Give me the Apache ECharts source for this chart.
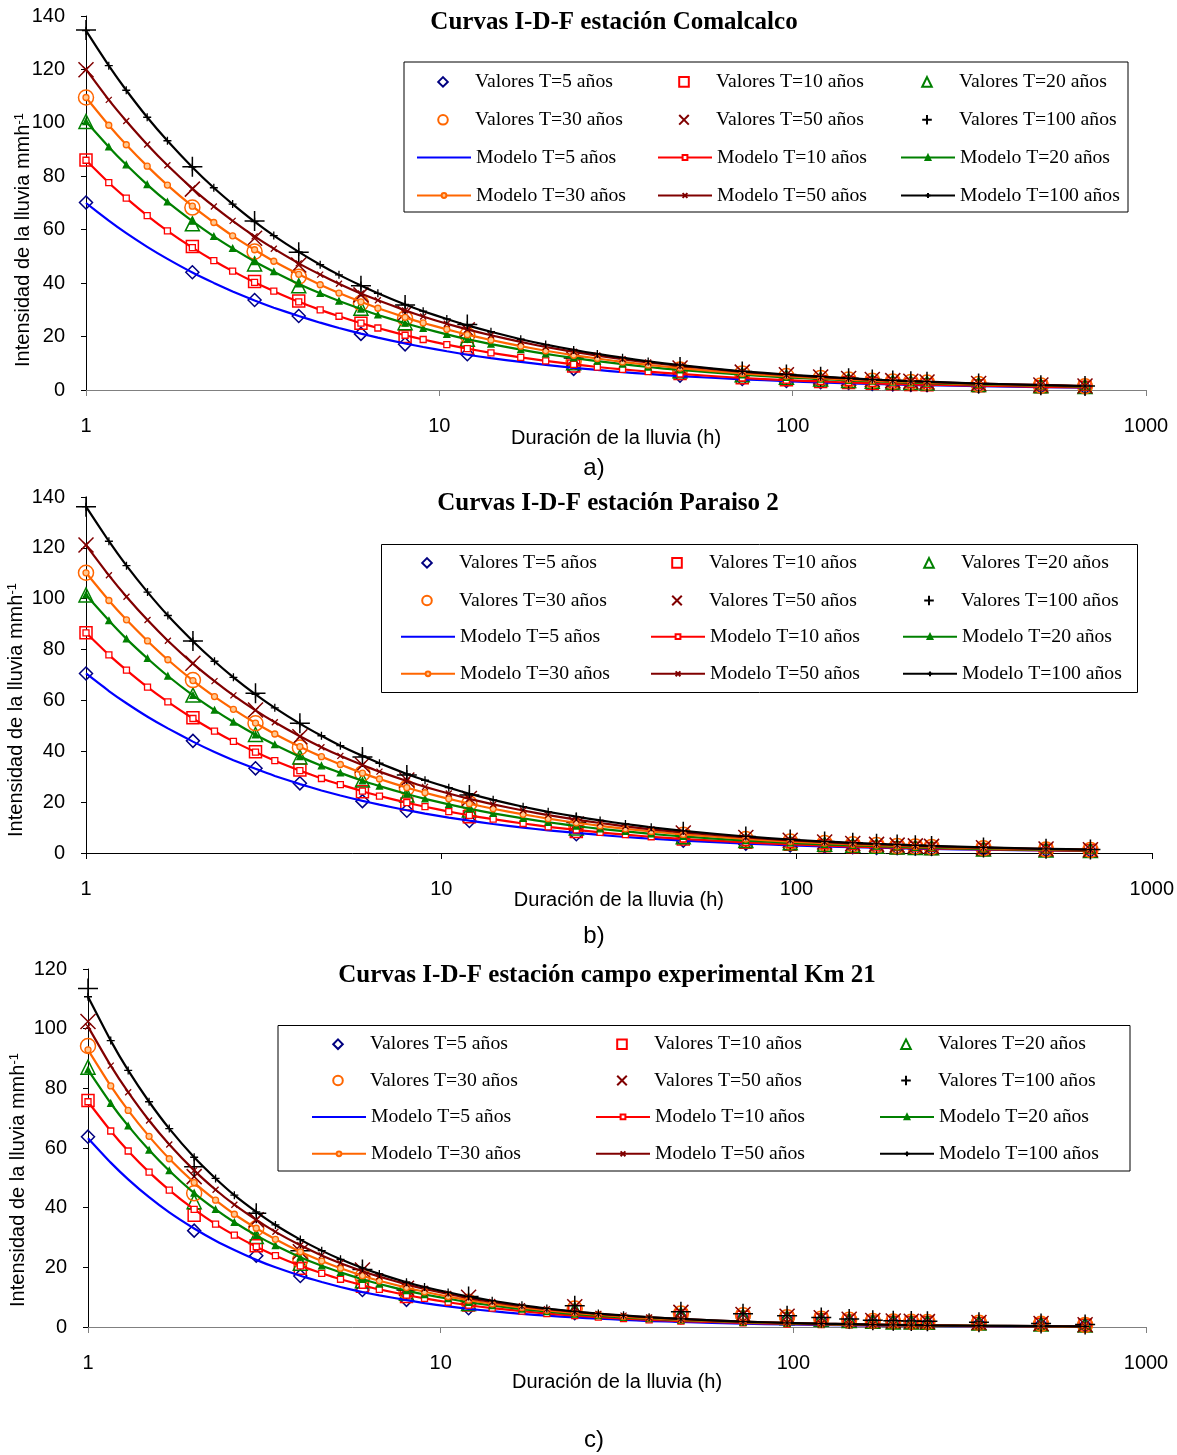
<!DOCTYPE html>
<html><head><meta charset="utf-8">
<script src="https://cdn.jsdelivr.net/npm/echarts@6/dist/echarts.min.js"></script>
<style>html,body{margin:0;padding:0;background:#fff}#c{width:1177px;height:1455px}</style>
</head><body><div id="c"></div>
<script>
// ---------- Durations (h) ----------
const durData = [1,2,3,4,6,8,12,24,48,72,96,120,144,168,192,216,240,336,504,672];
const durModel = [1,1.16,1.3,1.49,1.7,2,2.3,2.6,3,3.4,4,4.6,5.2,6,6.7,8,9,10.5,12,14,17,20,24,28,33,39,48,72,96,120,144,168,192,216,240,336,504,672];
const xTicks = [1,10,100,1000];
const returnPeriods = ['T=5 años','T=10 años','T=20 años','T=30 años','T=50 años','T=100 años'];
const titles = ['Curvas I-D-F estación Comalcalco','Curvas I-D-F estación Paraiso 2','Curvas I-D-F estación campo experimental Km 21'];
const panelLabels = ['a)','b)','c)'];
const yMax = [140,140,120];

// ---------- a) Comalcalco ----------
const aValT5   = [70.2,44.1,33.7,27.7,21.0,17.1,13.4,7.9,5.4,4.1,3.4,2.9,2.6,2.3,2.1,1.9,1.8,1.4,1.1,0.9];
const aValT10  = [86.1,53.7,40.6,33.3,25.0,20.0,15.6,9.0,6.2,4.6,3.8,3.2,2.8,2.5,2.3,2.1,2.0,1.6,1.2,1.0];
const aValT20  = [100.5,62.2,47.2,39.0,30.6,25.2,19.0,10.2,7.2,5.7,4.8,4.1,3.6,3.3,3.0,2.8,2.6,2.1,1.6,1.3];
const aValT30  = [109.5,68.3,51.8,42.4,32.5,26.8,20.6,10.8,7.7,6.2,5.2,4.5,3.9,3.5,3.2,3.0,2.8,2.2,1.7,1.4];
const aValT50  = [119.9,75.2,56.8,46.8,35.6,28.7,22.5,11.6,8.2,6.7,5.7,4.9,4.3,3.9,3.5,3.3,3.0,2.4,1.9,1.5];
const aValT100 = [134.8,83.6,63.3,51.6,39.0,31.8,24.5,12.0,8.6,6.9,5.8,5.0,4.4,3.9,3.6,3.3,3.1,2.4,1.8,1.5];
const aModT5   = [70.0,63.4,58.7,53.6,49.1,44.0,40.1,36.9,33.5,30.8,27.7,25.2,23.2,21.1,19.6,17.4,16.1,14.5,13.2,11.9,10.5,9.4,8.3,7.5,6.7,6.0,5.2,4.0,3.3,2.8,2.5,2.3,2.1,1.9,1.8,1.4,1.1,0.9];
const aModT10  = [86.0,77.6,71.8,65.3,59.6,53.3,48.4,44.5,40.3,37.0,33.0,30.0,27.6,25.0,23.2,20.5,18.9,17.0,15.5,13.9,12.2,10.9,9.6,8.6,7.7,6.9,6.0,4.5,3.7,3.2,2.8,2.5,2.3,2.1,2.0,1.6,1.2,1.0];
const aModT20  = [100.5,91.0,84.3,76.9,70.4,63.2,57.5,53.0,48.1,44.3,39.7,36.2,33.3,30.3,28.1,25.0,23.1,20.8,19.0,17.2,15.1,13.5,12.0,10.8,9.7,8.6,7.5,5.7,4.7,4.1,3.6,3.3,3.0,2.7,2.6,2.0,1.6,1.3];
const aModT30  = [109.5,99.1,91.8,83.8,76.7,68.8,62.7,57.7,52.5,48.2,43.3,39.4,36.3,33.0,30.6,27.2,25.1,22.7,20.7,18.7,16.4,14.7,13.0,11.8,10.5,9.4,8.2,6.2,5.2,4.4,3.9,3.5,3.2,3.0,2.8,2.2,1.7,1.4];
const aModT50  = [120.0,108.6,100.7,91.9,84.1,75.4,68.7,63.3,57.5,52.9,47.4,43.2,39.8,36.1,33.6,29.8,27.5,24.8,22.7,20.5,18.0,16.1,14.3,12.9,11.5,10.3,9.0,6.8,5.6,4.8,4.3,3.9,3.5,3.3,3.0,2.4,1.9,1.5];
const aModT100 = [134.5,121.4,112.2,102.1,93.3,83.4,75.7,69.6,63.0,57.8,51.7,46.9,43.1,39.1,36.2,32.0,29.5,26.6,24.2,21.8,19.0,17.0,15.0,13.5,12.1,10.7,9.3,7.0,5.8,5.0,4.4,3.9,3.6,3.3,3.1,2.4,1.8,1.5];

// ---------- b) Paraiso 2 ----------
const bValT5   = [70.6,44.1,33.3,27.4,20.4,16.6,12.6,7.4,4.8,3.7,3.0,2.6,2.3,2.0,1.9,1.7,1.6,1.3,1.0,0.8];
const bValT10  = [86.6,53.2,39.8,32.6,24.1,19.3,14.3,8.5,5.5,4.2,3.4,2.9,2.5,2.3,2.1,1.9,1.8,1.4,1.05,0.85];
const bValT20  = [101.5,62.1,46.6,37.8,28.7,22.8,16.9,9.8,6.4,4.9,4.0,3.4,3.0,2.7,2.4,2.2,2.1,1.6,1.2,1.0];
const bValT30  = [110.2,68.0,51.0,41.5,31.3,25.6,19.5,10.6,7.2,5.5,4.5,3.9,3.4,3.1,2.8,2.6,2.4,1.9,1.4,1.2];
const bValT50  = [121.1,74.6,56.2,45.7,34.6,28.7,21.4,11.4,7.9,6.1,5.0,4.3,3.7,3.4,3.1,2.8,2.6,2.1,1.6,1.3];
const bValT100 = [136.2,83.4,62.8,51.0,37.8,30.7,22.8,12.0,8.4,6.5,5.3,4.5,4.0,3.6,3.3,3.0,2.8,2.2,1.65,1.33];
const bModT5   = [70.6,63.7,58.9,53.6,49.0,43.8,39.7,36.5,33.1,30.3,27.1,24.6,22.6,20.5,19.0,16.8,15.5,13.9,12.7,11.4,10.0,8.9,7.9,7.1,6.3,5.6,4.9,3.7,3.0,2.6,2.3,2.1,1.9,1.7,1.6,1.3,1.0,0.8];
const bModT10  = [86.6,77.9,71.9,65.2,59.4,52.9,47.9,43.9,39.7,36.3,32.4,29.3,26.9,24.3,22.4,19.8,18.2,16.3,14.8,13.3,11.6,10.3,9.1,8.1,7.2,6.4,5.5,4.2,3.4,2.9,2.5,2.3,2.1,1.9,1.8,1.4,1.05,0.85];
const bModT20  = [101.5,91.4,84.2,76.5,69.6,62.0,56.2,51.5,46.5,42.6,37.9,34.3,31.5,28.4,26.3,23.2,21.3,19.1,17.4,15.6,13.6,12.1,10.6,9.5,8.5,7.5,6.5,4.9,4.0,3.4,3.0,2.7,2.4,2.2,2.1,1.6,1.2,1.0];
const bModT30  = [110.2,99.3,91.7,83.4,76.0,67.8,61.5,56.5,51.1,46.8,41.8,37.9,34.8,31.4,29.1,25.7,23.7,21.3,19.4,17.4,15.2,13.5,11.9,10.7,9.5,8.5,7.3,5.5,4.5,3.9,3.4,3.1,2.8,2.6,2.4,1.9,1.4,1.2];
const bModT50  = [121.1,109.2,100.8,91.6,83.5,74.5,67.6,62.0,56.1,51.4,45.9,41.6,38.2,34.6,32.0,28.3,26.0,23.4,21.3,19.1,16.7,14.9,13.1,11.8,10.5,9.3,8.1,6.1,5.0,4.3,3.7,3.4,3.1,2.8,2.6,2.1,1.6,1.3];
const bModT100 = [136.2,122.6,113.0,102.6,93.4,83.3,75.4,69.1,62.4,57.1,50.9,46.1,42.2,38.2,35.3,31.1,28.6,25.7,23.3,20.9,18.2,16.2,14.3,12.8,11.4,10.1,8.7,6.5,5.3,4.5,4.0,3.6,3.3,3.0,2.8,2.2,1.65,1.33];

// ---------- c) Campo experimental Km 21 ----------
const cValT5   = [63.8,32.3,23.9,17.1,12.4,9.1,6.3,4.6,3.3,2.9,2.5,2.1,1.75,1.5,1.4,1.3,1.2,1.04,0.78,0.52];
const cValT10  = [75.9,37.5,27.2,19.7,13.7,10.2,7.4,5.3,3.8,3.3,2.85,2.4,2.0,1.7,1.6,1.5,1.4,1.2,0.9,0.6];
const cValT20  = [87.1,42.0,30.3,21.4,15.5,11.3,7.9,5.8,4.2,3.6,3.1,2.6,2.2,1.9,1.7,1.64,1.56,1.3,0.98,0.66];
const cValT30  = [94.2,44.8,33.1,22.5,16.9,11.9,8.5,6.2,4.5,3.9,3.3,2.8,2.4,2.0,1.85,1.76,1.67,1.4,1.06,0.7];
const cValT50  = [102.4,50.4,35.9,25.2,19.1,13.0,10.0,6.8,4.9,4.2,3.6,3.1,2.6,2.2,2.0,1.9,1.8,1.5,1.15,0.77];
const cValT100 = [113.5,53.7,38.1,25.6,19.3,12.4,10.2,7.1,5.1,4.4,3.8,3.2,2.7,2.3,2.1,2.0,1.9,1.6,1.2,0.8];
const cModT5   = [63.3,55.1,49.5,43.5,38.4,33.0,28.9,25.8,22.5,20.0,17.2,15.1,13.4,11.7,10.6,9.0,8.0,6.9,6.1,5.3,4.4,3.8,3.2,2.8,2.4,2.0,1.7,1.1,0.9,0.7,0.6,0.5,0.45,0.4,0.37,0.27,0.18,0.14];
const cModT10  = [75.5,65.7,59.0,51.9,45.9,39.4,34.5,30.8,26.9,23.9,20.5,18.0,16.0,14.0,12.6,10.7,9.6,8.3,7.3,6.3,5.3,4.5,3.8,3.3,2.8,2.4,2.0,1.4,1.0,0.84,0.71,0.61,0.54,0.48,0.44,0.32,0.22,0.17];
const cModT20  = [86.2,75.0,67.4,59.3,52.4,44.9,39.4,35.1,30.7,27.3,23.4,20.5,18.3,16.0,14.4,12.2,10.9,9.5,8.3,7.2,6.0,5.2,4.3,3.8,3.2,2.8,2.3,1.6,1.2,0.96,0.81,0.70,0.62,0.55,0.50,0.36,0.25,0.19];
const cModT30  = [92.9,80.8,72.6,63.9,56.4,48.4,42.5,37.8,33.1,29.4,25.2,22.1,19.7,17.2,15.5,13.2,11.8,10.2,9.0,7.8,6.5,5.6,4.7,4.1,3.5,3.0,2.4,1.7,1.3,1.0,0.87,0.75,0.66,0.59,0.54,0.39,0.27,0.20];
const cModT50  = [100.7,87.6,78.7,69.2,61.2,52.5,46.0,41.0,35.9,31.9,27.4,24.0,21.4,18.7,16.9,14.3,12.8,11.1,9.7,8.4,7.0,6.0,5.1,4.4,3.8,3.2,2.7,1.8,1.4,1.1,0.94,0.82,0.72,0.64,0.58,0.42,0.29,0.22];
const cModT100 = [110.7,96.0,86.0,75.5,66.5,56.9,49.8,44.2,38.6,34.2,29.3,25.6,22.7,19.8,17.8,15.0,13.4,11.6,10.2,8.8,7.3,6.2,5.2,4.5,3.9,3.3,2.7,1.8,1.4,1.1,0.94,0.81,0.71,0.64,0.57,0.42,0.28,0.21];

const panelVals = [
  [aValT5,aValT10,aValT20,aValT30,aValT50,aValT100],
  [bValT5,bValT10,bValT20,bValT30,bValT50,bValT100],
  [cValT5,cValT10,cValT20,cValT30,cValT50,cValT100]
];
const panelMods = [
  [aModT5,aModT10,aModT20,aModT30,aModT50,aModT100],
  [bModT5,bModT10,bModT20,bModT30,bModT50,bModT100],
  [cModT5,cModT10,cModT20,cModT30,cModT50,cModT100]
];

// ---------- styles ----------
const PX = 'path://M0,0L10,10M10,0L0,10';
const PP = 'path://M5,0L5,10M0,5L10,5';
const valStyle = [
  {symbol:'diamond', size:13, color:'#000080'},
  {symbol:'rect', size:12, color:'#FF0000'},
  {symbol:'triangle', size:14, color:'#008000'},
  {symbol:'circle', size:15, color:'#FF6600'},
  {symbol:PX, size:15, color:'#800000'},
  {symbol:PP, size:20, color:'#000000'}
];
const modStyle = [
  {line:'#0000FF', symbol:'none', size:0, fill:'#0000FF', stroke:'#0000FF'},
  {line:'#FF0000', symbol:'rect', size:6, fill:'#FFFFFF', stroke:'#FF0000'},
  {line:'#008000', symbol:'triangle', size:6, fill:'#008000', stroke:'#008000'},
  {line:'#FF6600', symbol:'circle', size:6, fill:'#FFC890', stroke:'#FF6600'},
  {line:'#800000', symbol:PX, size:6, fill:'rgba(0,0,0,0)', stroke:'#800000'},
  {line:'#000000', symbol:PP, size:8, fill:'rgba(0,0,0,0)', stroke:'#000000'}
];

const grids = [
  {left:86, top:16, width:1060, height:374},
  {left:86, top:497, width:1066, height:356},
  {left:88, top:969, width:1058, height:358}
];
const xAxisColor = ['#808080','#000000','#808080'];
const xNameGap = [38, 37, 45];
const legendCols = [[416,657,900],[400,650,902],[311,595,879]];
const legendRows = [[81.7,119.3,157.3,195],[562.7,600,636.5,673.3],[1044,1080,1116.7,1153.3]];
const legendBox = [[404,62,724,150],[381.5,544.5,756,148],[278,1025.5,852,145.5]];
const titlePos = [[614,23],[608,504],[607,976]];
const labelPos = [[594,468],[594,936],[594,1440]];
const yNamePos = [[23,240],[16,710],[18,1180]];

const valNames = returnPeriods.map(t => 'Valores ' + t);
const modNames = returnPeriods.map(t => 'Modelo ' + t);

const pairs = (xs, ys) => xs.map((x, i) => [x, ys[i]]);

const series = [];
const xAxis = [], yAxis = [], legend = [], graphic = [];

for (let p = 0; p < 3; p++) {
  xAxis.push({
    gridIndex:p, type:'log', logBase:10, min:xTicks[0], max:xTicks[xTicks.length-1],
    axisLine:{onZero:false, lineStyle:{color:xAxisColor[p], width:1}},
    axisTick:{show:true, length:6, lineStyle:{color:xAxisColor[p]}},
    minorTick:{show:false}, splitLine:{show:false},
    axisLabel:{fontFamily:'Liberation Sans', fontSize:20, color:'#000', margin:26,
      formatter:v => String(Math.round(v))},
    name:'Duración de la lluvia (h)', nameLocation:'middle', nameGap:xNameGap[p],
    nameMoveOverlap:false,
    nameTextStyle:{fontFamily:'Liberation Sans', fontSize:20, color:'#000'}
  });
  yAxis.push({
    gridIndex:p, type:'value', min:0, max:yMax[p], interval:20,
    axisLine:{show:true, onZero:false, lineStyle:{color:'#000', width:1}},
    axisTick:{show:true, length:5, lineStyle:{color:'#000'}},
    splitLine:{show:false},
    axisLabel:{fontFamily:'Liberation Sans', fontSize:20, color:'#000', margin:21}
  });
  for (let k = 0; k < 6; k++) {
    const s = valStyle[k];
    series.push({
      type:'line', name:valNames[k], xAxisIndex:p, yAxisIndex:p,
      data:pairs(durData, panelVals[p][k]),
      symbol:s.symbol, symbolSize:s.size, showAllSymbol:true, silent:true,
      lineStyle:{opacity:0, width:0},
      itemStyle:{color:'rgba(0,0,0,0)', borderColor:s.color, borderWidth:1.5},
      z:2, animation:false
    });
  }
  for (let k = 0; k < 6; k++) {
    const s = modStyle[k];
    series.push({
      type:'line', name:modNames[k], xAxisIndex:p, yAxisIndex:p,
      data:pairs(durModel, panelMods[p][k]),
      symbol:s.symbol, symbolSize:s.size, showAllSymbol:true, silent:true,
      smooth:0.15,
      lineStyle:{color:s.line, width:2.2},
      itemStyle:{color:s.fill, borderColor:s.stroke, borderWidth:1.3},
      z:3, animation:false
    });
  }
  const cols = legendCols[p], rows = legendRows[p];
  for (let c = 0; c < 3; c++) {
    const common = {orient:'vertical', left:cols[c], padding:0, itemWidth:54, selectedMode:false,
      textStyle:{fontFamily:'Liberation Serif', fontSize:19.7, color:'#000'}};
    legend.push(Object.assign({}, common, {
      top:rows[0]-9.8, itemHeight:12, itemGap:(rows[1]-rows[0])-19.7,
      data:[valNames[c], valNames[c+3]]
    }));
    legend.push(Object.assign({}, common, {
      top:rows[2]-9.8, itemHeight:6, itemGap:(rows[3]-rows[2])-19.7,
      data:[c === 0 ? {name:modNames[0], itemStyle:{opacity:0}} : modNames[c], modNames[c+3]]
    }));
  }
  const b = legendBox[p];
  graphic.push({type:'rect', shape:{x:b[0], y:b[1], width:b[2], height:b[3]},
    style:{fill:'none', stroke:'#000', lineWidth:1}, silent:true, z:1});
  graphic.push({type:'text', x:titlePos[p][0], y:titlePos[p][1],
    style:{text:titles[p], font:'bold 25px "Liberation Serif"', fill:'#000', textAlign:'center', textVerticalAlign:'middle'}});
  graphic.push({type:'text', x:labelPos[p][0], y:labelPos[p][1],
    style:{text:panelLabels[p], font:'24px "Liberation Sans"', fill:'#000', textAlign:'center', textVerticalAlign:'middle'}});
  graphic.push({type:'text', x:yNamePos[p][0], y:yNamePos[p][1], rotation:Math.PI/2,
    style:{text:'{a|Intensidad de la lluvia mmh}{s|-1}', textAlign:'center', textVerticalAlign:'middle',
      rich:{a:{fontFamily:'Liberation Sans', fontSize:20, fill:'#000'},
            s:{fontFamily:'Liberation Sans', fontSize:13, fill:'#000', verticalAlign:'top'}}}});
}

const chart = echarts.init(document.getElementById('c'), null, {renderer:'canvas'});
chart.setOption({
  animation:false,
  backgroundColor:'#ffffff',
  grid:grids, xAxis, yAxis, series, legend, graphic
});
</script>
</body></html>
